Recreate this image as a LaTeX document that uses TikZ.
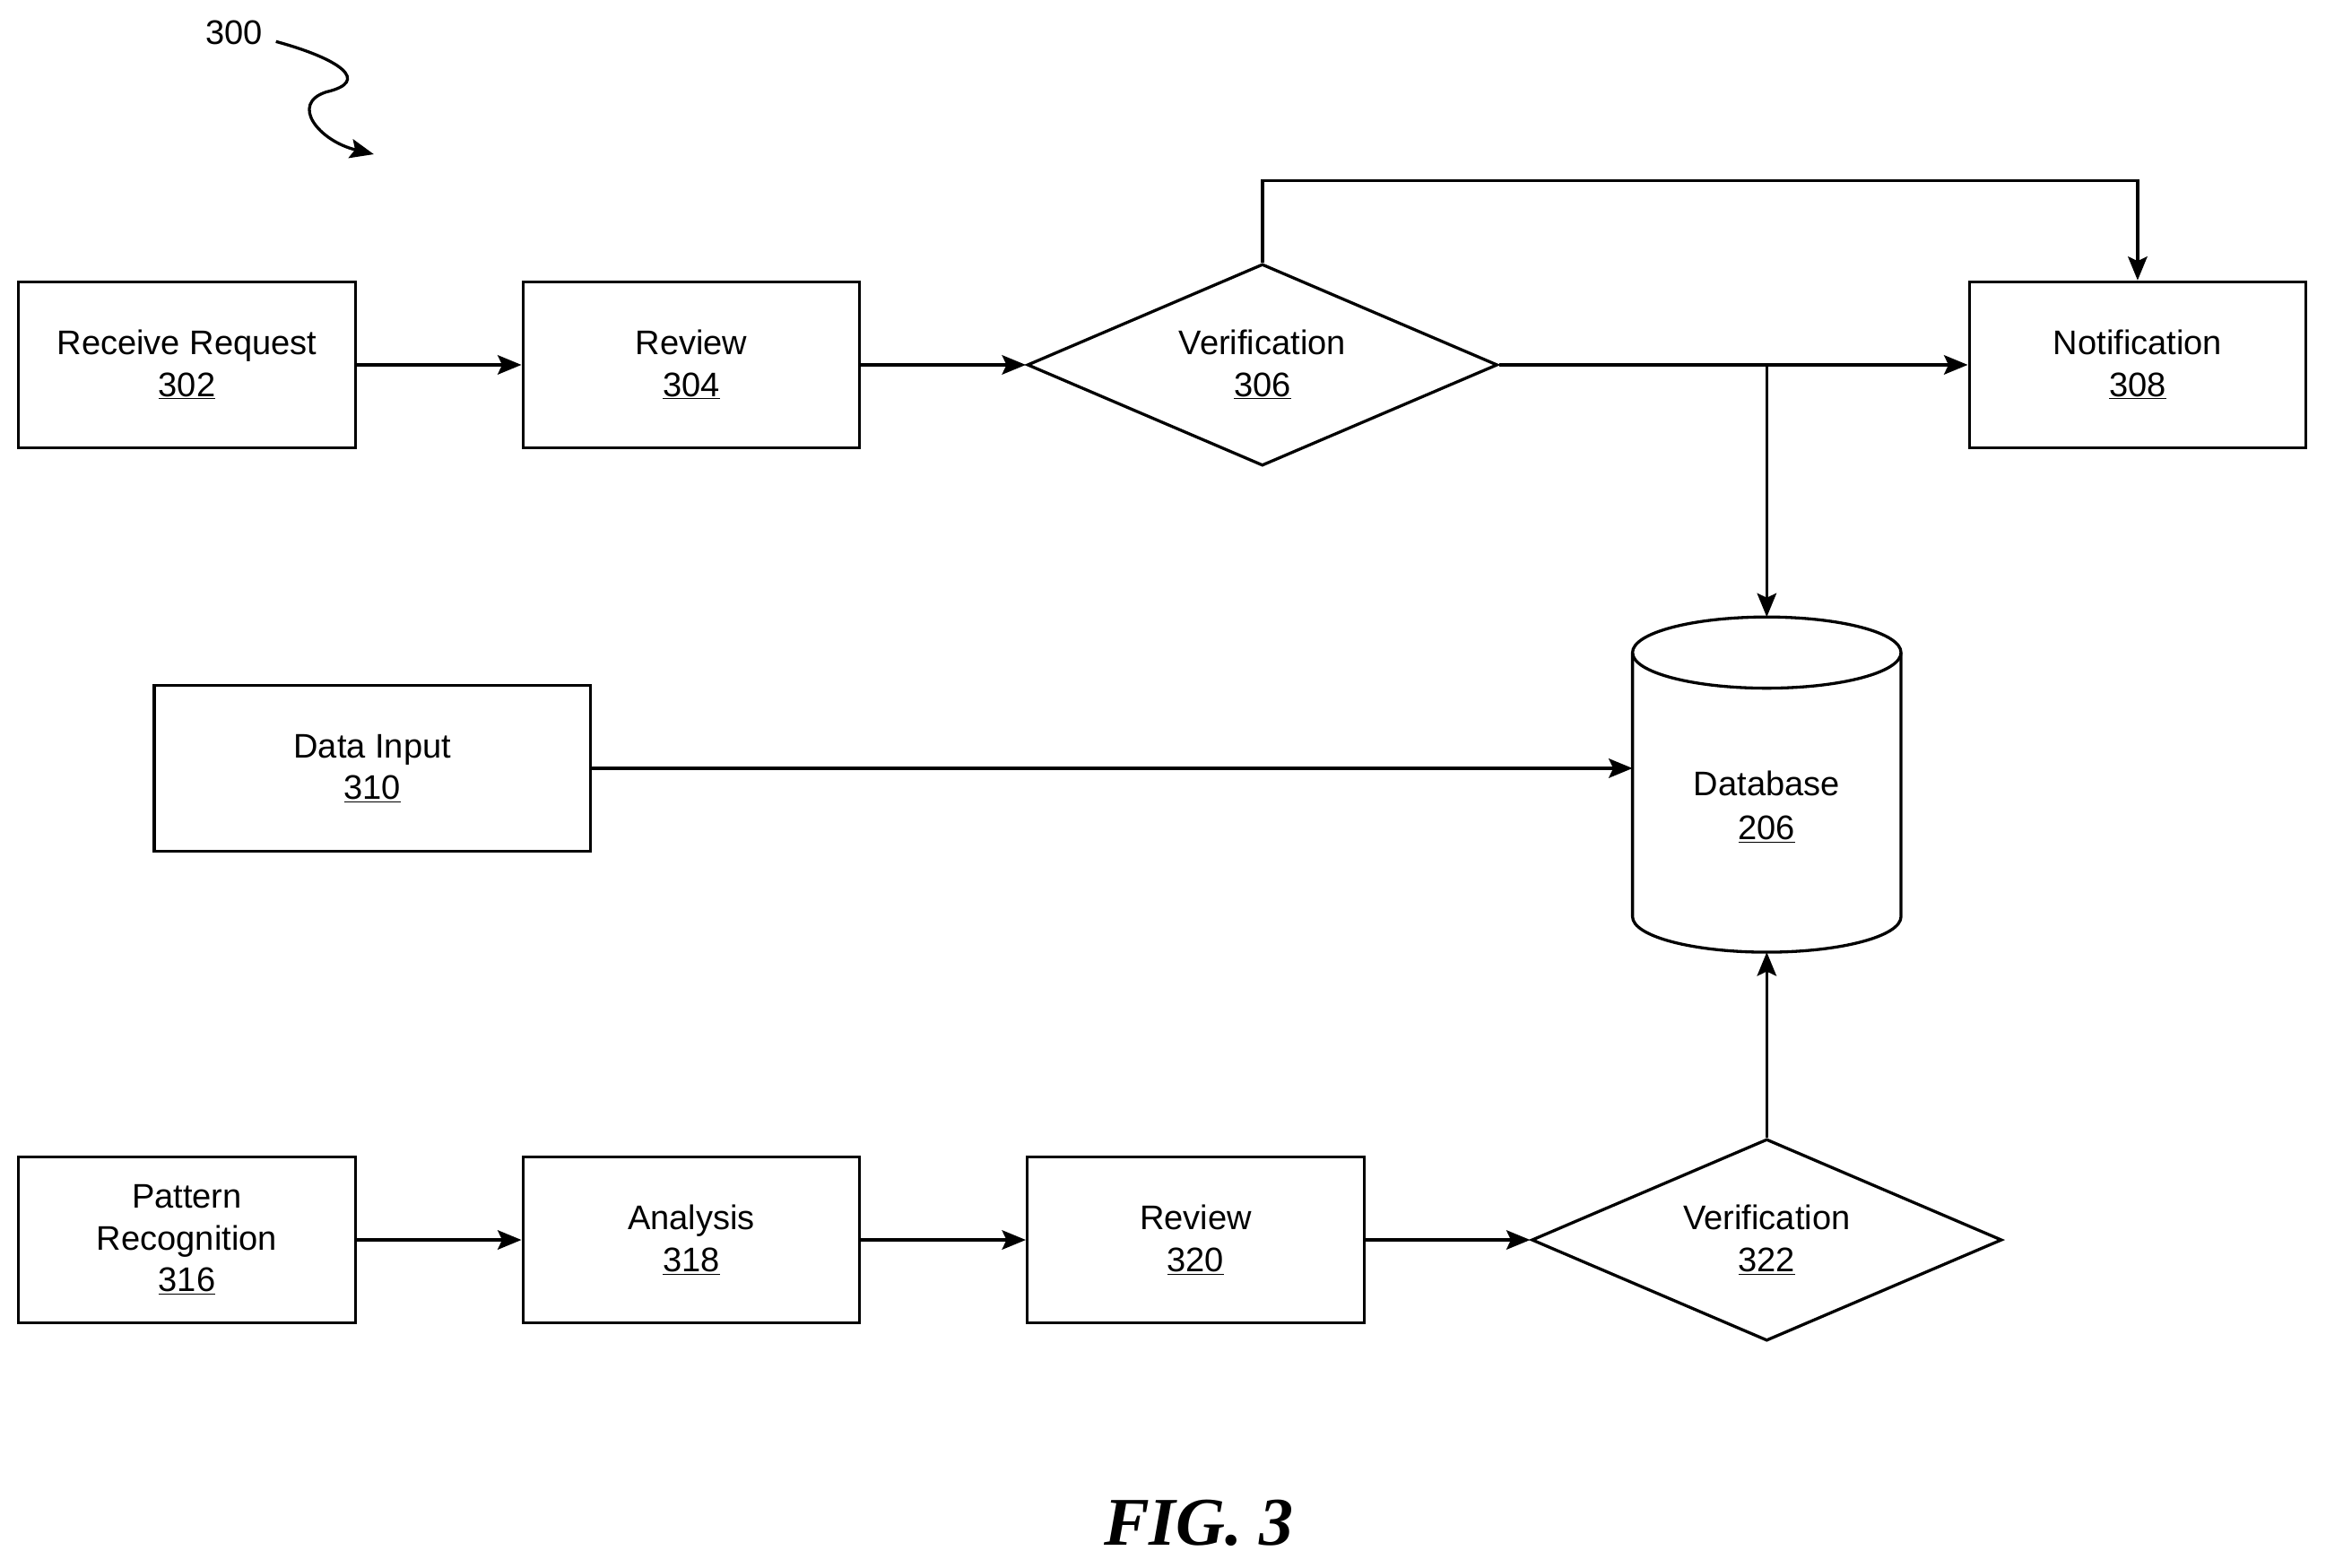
\documentclass[tikz,border=0pt]{standalone}
\usepackage{fontspec}
\setmainfont{Liberation Sans}
\newfontfamily\figfont{Liberation Serif}
\usetikzlibrary{shapes.geometric,arrows.meta}
\begin{document}
\begin{tikzpicture}[x=1pt,y=-1pt,
  box/.style={draw,line width=2pt,minimum width=227pt,minimum height=112pt,inner sep=0pt,align=center,font=\fontsize{23}{28}\selectfont},
  dia/.style={draw,diamond,line width=2pt,minimum width=317pt,minimum height=136pt,aspect=2.33,inner sep=0pt,align=center,font=\fontsize{23}{28}\selectfont},
  arr/.style={line width=2pt,-{Stealth[length=16pt,width=13pt,inset=3pt]}}]
\useasboundingbox (0,0) rectangle (1568,1057);
\node[box] (r302) at (126,246) {Receive Request\\\underline{302}};
\node[box] (r304) at (466,246) {Review\\\underline{304}};
\node[dia] (v306) at (851,246) {Verification\\\underline{306}};
\node[box] (n308) at (1441,246) {Notification\\\underline{308}};
\node[box,minimum width=294pt] (d310) at (251,518) {Data Input\\\underline{310}};
\node[box] (p316) at (126,836) {Pattern\\Recognition\\\underline{316}};
\node[box] (a318) at (466,836) {Analysis\\\underline{318}};
\node[box] (r320) at (806,836) {Review\\\underline{320}};
\node[dia] (v322) at (1191,836) {Verification\\\underline{322}};
% database
\node[inner sep=0pt,align=center,font=\fontsize{23}{30}\selectfont] (db) at (1191,544) {Database\\\underline{206}};
\draw[line width=2pt] (1191,440) ellipse [x radius=90.5pt,y radius=24pt];
\draw[line width=2pt] (1100.5,440) -- (1100.5,618) arc[start angle=180,end angle=360,x radius=90.5pt,y radius=24pt] -- (1281.5,440);
\coordinate (dbtop) at (1191,416);
\coordinate (dbbot) at (1191,642);
\coordinate (dbleft) at (1100.5,518);
\coordinate (j) at (1191,246);
\draw[arr] (r302) -- (r304);
\draw[arr] (r304) -- (v306);
\draw[arr] (v306) -- (n308);
\draw[arr] (v306.north) -- (851,122) -| (n308.north);
\draw[arr] (j) -- (dbtop);
\draw[arr] (d310) -- (dbleft);
\draw[arr] (p316) -- (a318);
\draw[arr] (a318) -- (r320);
\draw[arr] (r320) -- (v322);
\draw[arr] (v322.north) -- (dbbot);
\node[font=\fontsize{23}{28}\selectfont] (l300) at (158,22) {300};
\coordinate (s) at (186,28);
\draw[arr] (s) .. controls (230,40) and (250,55) .. (220,62) .. controls (195,70) and (215,95) .. (252,104);
\node[font=\figfont\bfseries\itshape\fontsize{46}{52}\selectfont] (fig) at (808,1027) {FIG. 3};
\end{tikzpicture}
\end{document}
